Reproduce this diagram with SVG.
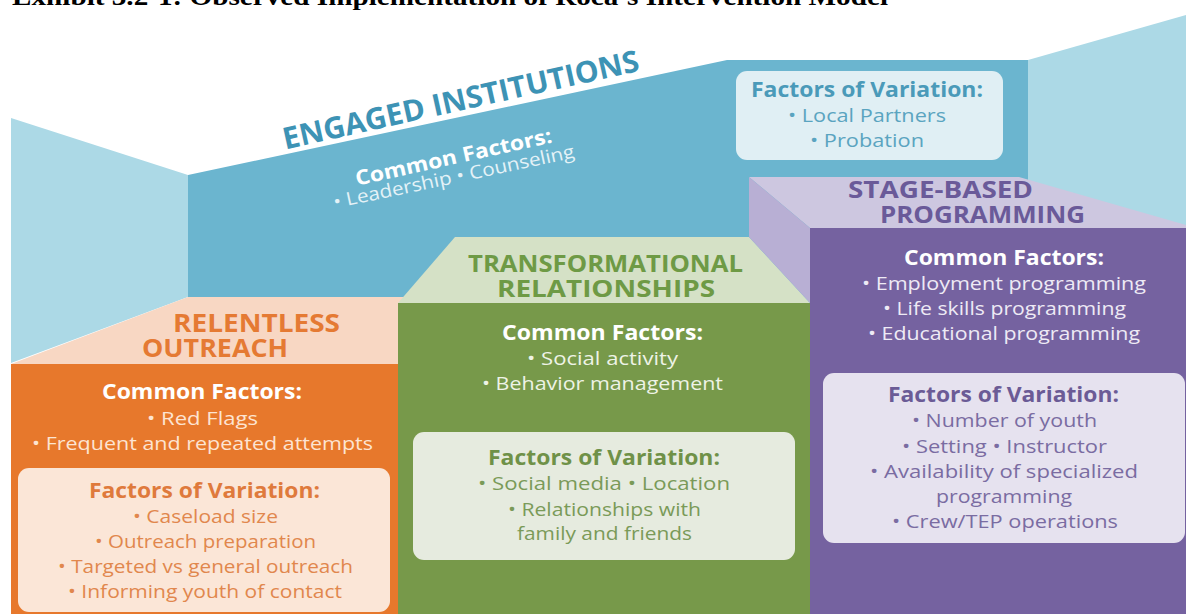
<svg xmlns="http://www.w3.org/2000/svg" width="1186" height="614" viewBox="0 0 1186 614">
<style>
text{font-family:"Open Sans","Noto Sans","DejaVu Sans",sans-serif;text-anchor:middle}
.t{font-weight:700}
.h{font-weight:700;font-size:20.5px}
.b{font-size:18.5px}
.wh{fill:#ffffff}
.exh{font-family:"Liberation Serif","Times New Roman",serif;font-weight:700;font-size:26px;text-anchor:start;fill:#000}
</style>
<rect width="1186" height="614" fill="#ffffff"/>
<text class="exh" x="12" y="5" textLength="876" lengthAdjust="spacingAndGlyphs">Exhibit 3.2-1: Observed Implementation of Roca’s Intervention Model</text>

<g id="walls">
<polygon points="188,175 727,60 1028,60 1028,305 188,305" fill="#6bb5cf"/>
<polygon points="11,118 188,175 188,297 11,363" fill="#acd9e6"/>
<polygon points="1028,60 1186,15 1186,232 1028,232" fill="#acd9e6"/>
</g>

<g id="engaged-institutions">
<text class="t" transform="translate(463,110) rotate(-12.5)" font-size="30" fill="#3d93b5" textLength="364" lengthAdjust="spacingAndGlyphs">ENGAGED INSTITUTIONS</text>
<text class="h wh" transform="translate(455,164) rotate(-12.5)" textLength="201" lengthAdjust="spacingAndGlyphs">Common Factors:</text>
<text class="b" transform="translate(455,183) rotate(-12)" fill="#e4f2f7" textLength="246" lengthAdjust="spacingAndGlyphs">• Leadership • Counseling</text>
<rect x="736" y="71" width="267" height="89" rx="11" fill="#e0eff4"/>
<text class="h" x="867" y="97" fill="#4a9ab9" textLength="232" lengthAdjust="spacingAndGlyphs">Factors of Variation:</text>
<text class="b" x="867" y="122" fill="#5aa4c0" textLength="158" lengthAdjust="spacingAndGlyphs">• Local Partners</text>
<text class="b" x="867" y="147" fill="#5aa4c0" textLength="114" lengthAdjust="spacingAndGlyphs">• Probation</text>
</g>

<g id="relentless-outreach">
<polygon points="11,364 188,297 410,297 410,364" fill="#f8d7c3"/>
<rect x="11" y="364" width="387" height="250" fill="#e7782c"/>
<text class="t" x="256.5" y="332" font-size="25.5" fill="#e57a33" textLength="167" lengthAdjust="spacingAndGlyphs">RELENTLESS</text>
<text class="t" x="215" y="357" font-size="25.5" fill="#e57a33" textLength="146" lengthAdjust="spacingAndGlyphs">OUTREACH</text>
<text class="h wh" x="202" y="399" textLength="200" lengthAdjust="spacingAndGlyphs">Common Factors:</text>
<text class="b" x="202.5" y="425" fill="#fde4d2" textLength="111" lengthAdjust="spacingAndGlyphs">• Red Flags</text>
<text class="b" x="202.5" y="450" fill="#fde4d2" textLength="341" lengthAdjust="spacingAndGlyphs">• Frequent and repeated attempts</text>
<rect x="18" y="468" width="372" height="144" rx="11" fill="#fbe6d7"/>
<text class="h" x="204.5" y="498" fill="#df7a3c" textLength="231" lengthAdjust="spacingAndGlyphs">Factors of Variation:</text>
<text class="b" x="205.5" y="523" fill="#e1874d" textLength="145" lengthAdjust="spacingAndGlyphs">• Caseload size</text>
<text class="b" x="205.5" y="548" fill="#e1874d" textLength="221" lengthAdjust="spacingAndGlyphs">• Outreach preparation</text>
<text class="b" x="205.5" y="573" fill="#e1874d" textLength="295" lengthAdjust="spacingAndGlyphs">• Targeted vs general outreach</text>
<text class="b" x="205" y="598" fill="#e1874d" textLength="274" lengthAdjust="spacingAndGlyphs">• Informing youth of contact</text>
</g>

<g id="transformational-relationships">
<polygon points="455,237 749,237 810,303 398,303" fill="#d5e1c6"/>
<rect x="398" y="303" width="412" height="311" fill="#77994a"/>
<text class="t" x="605.5" y="272" font-size="24" fill="#6e9a45" textLength="275" lengthAdjust="spacingAndGlyphs">TRANSFORMATIONAL</text>
<text class="t" x="606" y="297" font-size="24" fill="#6e9a45" textLength="218" lengthAdjust="spacingAndGlyphs">RELATIONSHIPS</text>
<text class="h wh" x="602.5" y="340" textLength="201" lengthAdjust="spacingAndGlyphs">Common Factors:</text>
<text class="b" x="602.5" y="365" fill="#eef3e6" textLength="151" lengthAdjust="spacingAndGlyphs">• Social activity</text>
<text class="b" x="602.5" y="390" fill="#eef3e6" textLength="241" lengthAdjust="spacingAndGlyphs">• Behavior management</text>
<rect x="413" y="432" width="382" height="128" rx="11" fill="#e6ebdf"/>
<text class="h" x="604" y="465" fill="#6f9148" textLength="232" lengthAdjust="spacingAndGlyphs">Factors of Variation:</text>
<text class="b" x="604" y="490" fill="#7a9a58" textLength="252" lengthAdjust="spacingAndGlyphs">• Social media • Location</text>
<text class="b" x="604.5" y="516" fill="#7a9a58" textLength="193" lengthAdjust="spacingAndGlyphs">• Relationships with</text>
<text class="b" x="604.5" y="540" fill="#7a9a58" textLength="175" lengthAdjust="spacingAndGlyphs">family and friends</text>
</g>

<g id="stage-based-programming">
<polygon points="749,177 1019,177 1186,225 1186,228 810,228" fill="#cdc7e0"/>
<polygon points="749,177 810,228 810,303 749,237" fill="#b8afd4"/>
<rect x="810" y="228" width="376" height="386" fill="#7562a0"/>
<text class="t" x="940.5" y="198" font-size="23" fill="#6a5a99" textLength="185" lengthAdjust="spacingAndGlyphs">STAGE-BASED</text>
<text class="t" x="982.5" y="223" font-size="23" fill="#6a5a99" textLength="205" lengthAdjust="spacingAndGlyphs">PROGRAMMING</text>
<text class="h wh" x="1004" y="265" textLength="200" lengthAdjust="spacingAndGlyphs">Common Factors:</text>
<text class="b" x="1004" y="290" fill="#eeeaf5" textLength="284" lengthAdjust="spacingAndGlyphs">• Employment programming</text>
<text class="b" x="1004.5" y="315" fill="#eeeaf5" textLength="243" lengthAdjust="spacingAndGlyphs">• Life skills programming</text>
<text class="b" x="1004" y="340" fill="#eeeaf5" textLength="272" lengthAdjust="spacingAndGlyphs">• Educational programming</text>
<rect x="823" y="373" width="362" height="170" rx="11" fill="#e6e2ef"/>
<text class="h" x="1003.5" y="402" fill="#6b5b96" textLength="231" lengthAdjust="spacingAndGlyphs">Factors of Variation:</text>
<text class="b" x="1004.5" y="427" fill="#7a6ca2" textLength="185" lengthAdjust="spacingAndGlyphs">• Number of youth</text>
<text class="b" x="1004.5" y="453" fill="#7a6ca2" textLength="205" lengthAdjust="spacingAndGlyphs">• Setting • Instructor</text>
<text class="b" x="1004" y="478" fill="#7a6ca2" textLength="268" lengthAdjust="spacingAndGlyphs">• Availability of specialized</text>
<text class="b" x="1004" y="503" fill="#7a6ca2" textLength="136" lengthAdjust="spacingAndGlyphs">programming</text>
<text class="b" x="1005" y="528" fill="#7a6ca2" textLength="226" lengthAdjust="spacingAndGlyphs">• Crew/TEP operations</text>
</g>

<g id="connectors"></g>
</svg>
